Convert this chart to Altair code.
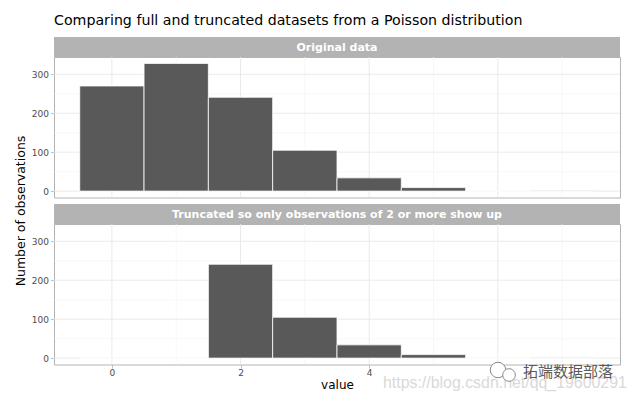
import altair as alt
import pandas as pd

# Counts per observed value (bins centred on integers)
values = [0, 1, 2, 3, 4, 5, 6, 7]
original_counts = [270, 328, 241, 105, 34, 9, 0, 1]
truncated_counts = [0, 0, 241, 105, 34, 9, 0, 1]

panel_labels = ["Original data", "Truncated so only observations of 2 or more show up"]
title_text = "Comparing full and truncated datasets from a Poisson distribution"
y_title = "Number of observations"
x_title = "value"

x_major = [0, 2, 4, 6]
x_minor = [1, 3, 5, 7]
y_major = [0, 100, 200, 300]
y_minor = [50, 150, 250]

watermark_cn = "拓端数据部落"
watermark_url = "https://blog.csdn.net/qq_19600291"

FONT = "DejaVu Sans"
W = 566
STRIP_H = 20
GAP = 6
PANEL_H = 140.5

x_scale = alt.Scale(domain=[-0.9, 7.9], nice=False, zero=False)
y_scale = alt.Scale(domain=[-16.4, 344.4], nice=False, zero=False)

y_axis = alt.Axis(
    values=y_major, grid=False, domain=False, title=None,
    tickColor="#b3b3b3", tickSize=3.5, tickWidth=0.8,
    labelColor="#4d4d4d", labelFontSize=9, labelFont=FONT, labelPadding=2,
)


def strip(label, gap=0, with_title=False):
    df = pd.DataFrame({"label": [label]})
    base = alt.Chart(df)
    bg = base.mark_rect(color="#b3b3b3").encode(
        x=alt.value(0), x2=alt.value(W), y=alt.value(gap), y2=alt.value(gap + STRIP_H)
    )
    txt = base.mark_text(
        color="white", font=FONT, fontWeight="bold", fontSize=11,
        align="center", baseline="middle",
    ).encode(text="label:N", x=alt.value(W / 2), y=alt.value(gap + STRIP_H / 2 + 0.5))
    layers = [bg, txt]
    if with_title:
        t = alt.Chart(pd.DataFrame({"t": [title_text]})).mark_text(
            color="black", font=FONT, fontSize=14.2, align="left", baseline="middle"
        ).encode(text="t:N", x=alt.value(0), y=alt.value(-16))
        layers.append(t)
    return alt.layer(*layers).properties(
        width=W, height=gap + STRIP_H, view=alt.ViewConfig(stroke="transparent")
    )


def panel(counts, bottom=False):
    if bottom:
        x_axis = alt.Axis(
            values=x_major, grid=False, domain=False, title=x_title,
            tickColor="#b3b3b3", tickSize=3.5, tickWidth=0.8,
            labelColor="#4d4d4d", labelFontSize=9, labelFont=FONT, labelPadding=0,
            titleFont=FONT, titleFontSize=12, titleFontWeight="normal",
            titleColor="black", titlePadding=2,
        )
    else:
        x_axis = None

    vminor = alt.Chart(pd.DataFrame({"g": x_minor})).mark_rule(
        color="#f3f3f3", strokeWidth=0.7
    ).encode(x=alt.X("g:Q", scale=x_scale, axis=x_axis))
    vmajor = alt.Chart(pd.DataFrame({"g": x_major})).mark_rule(
        color="#e8e8e8", strokeWidth=0.9
    ).encode(x=alt.X("g:Q", scale=x_scale, axis=x_axis))
    hminor = alt.Chart(pd.DataFrame({"g": y_minor})).mark_rule(
        color="#f3f3f3", strokeWidth=0.7
    ).encode(y=alt.Y("g:Q", scale=y_scale, axis=y_axis))
    hmajor = alt.Chart(pd.DataFrame({"g": y_major})).mark_rule(
        color="#e8e8e8", strokeWidth=0.9
    ).encode(y=alt.Y("g:Q", scale=y_scale, axis=y_axis))

    df = pd.DataFrame({"value": values, "count": counts})
    bars = alt.Chart(df).transform_calculate(
        lo="datum.value - 0.5", hi="datum.value + 0.5", base="0"
    ).mark_rect(color="#595959", stroke="white", strokeWidth=0.8).encode(
        x=alt.X("lo:Q", scale=x_scale, axis=x_axis),
        x2="hi:Q",
        y=alt.Y("count:Q", scale=y_scale, axis=y_axis),
        y2="base:Q",
    )
    layers = [vminor, hminor, vmajor, hmajor, bars]

    if bottom:
        ytitle = alt.Chart(pd.DataFrame({"t": [y_title]})).mark_text(
            color="black", font=FONT, fontSize=12.5, angle=270,
            align="center", baseline="middle",
        ).encode(text="t:N", x=alt.value(-33), y=alt.value(-13))
        # watermark: chat-bubble logo, account name and blog address
        logo_big = alt.Chart(pd.DataFrame({"t": [watermark_cn]})).mark_point(
            shape="circle", size=240, filled=True, fill="white",
            stroke="#8a8a8a", strokeWidth=1, opacity=1,
        ).encode(x=alt.value(444), y=alt.value(146))
        logo_small = alt.Chart(pd.DataFrame({"t": [watermark_cn]})).mark_point(
            shape="circle", size=160, filled=True, fill="white",
            stroke="#8a8a8a", strokeWidth=1, opacity=1,
        ).encode(x=alt.value(455), y=alt.value(151))
        wm_cn = alt.Chart(pd.DataFrame({"t": [watermark_cn]})).mark_text(
            color="#5a5a5a", font="Noto Sans CJK SC", fontSize=15,
            align="left", baseline="middle",
        ).encode(text="t:N", x=alt.value(469), y=alt.value(148))
        wm_url = alt.Chart(pd.DataFrame({"t": [watermark_url]})).mark_text(
            color="#d9d9d9", font="Liberation Sans", fontSize=15.9,
            align="left", baseline="middle",
        ).encode(text="t:N", x=alt.value(329), y=alt.value(159))
        layers += [ytitle, wm_url, logo_big, logo_small, wm_cn]

    return alt.layer(*layers).properties(
        width=W, height=PANEL_H,
        view=alt.ViewConfig(stroke="#b3b3b3", strokeWidth=1),
    )


chart = alt.vconcat(
    strip(panel_labels[0], with_title=True),
    panel(original_counts),
    strip(panel_labels[1], gap=GAP),
    panel(truncated_counts, bottom=True),
    spacing=0, bounds="flush",
).properties(
    padding={"left": 14, "top": 13, "right": 0, "bottom": 0},
    background="white",
)

chart.save("out.html", embed_options={"renderer": "svg", "actions": False})
